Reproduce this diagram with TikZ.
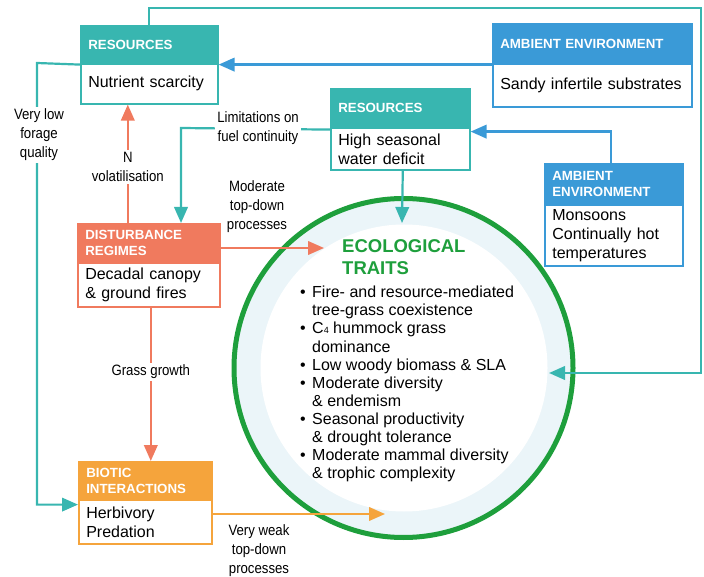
\documentclass[tikz,border=0pt]{standalone}
\usepackage{fontspec}
\setmainfont{Liberation Sans}
\newfontfamily\condfont[FakeStretch=0.88]{Liberation Sans}
\usetikzlibrary{arrows.meta}

\definecolor{cteal}{RGB}{56,182,176}
\definecolor{cblue}{RGB}{58,154,215}
\definecolor{csalmon}{RGB}{240,122,94}
\definecolor{corange}{RGB}{245,164,60}
\definecolor{cgreen}{RGB}{30,159,60}
\definecolor{cband}{RGB}{235,245,249}

\newcommand{\bxhdfont}{\fontsize{13.3}{16}\selectfont\bfseries}
\newcommand{\bxbdfont}{\fontsize{16}{19}\selectfont}
\newcommand{\lblfont}{\condfont\fontsize{15}{19}\selectfont}
\newcommand{\bulpt}{\makebox[12pt][l]{•}}
\newcommand{\contpt}{\hspace*{12pt}}

\tikzset{
  boxhead/.style={fill=#1, draw=#1, line width=1.6pt, text=white, font=\bxhdfont,
    align=left, inner xsep=7.5pt, inner ysep=0pt, anchor=north west},
  boxbody/.style={fill=white, draw=#1, line width=1.6pt, text=black, font=\bxbdfont,
    align=left, inner xsep=7.5pt, inner ysep=0pt, anchor=north west},
  conn/.style={draw=#1, line width=2.2pt, -{Triangle[length=16pt,width=13.5pt]}},
  lbl/.style={fill=white, font=\lblfont, align=center, inner sep=2pt, text=black},
  lblfree/.style={font=\lblfont, align=center, inner sep=1pt, text=black},
}

\begin{document}
\begin{tikzpicture}[x=1pt, y=-1pt]
\useasboundingbox (0,0) rectangle (704,577);

% central ring of ecological traits
\node[circle, minimum size=339pt, inner sep=0pt, fill=cband, draw=cgreen, line width=5pt] (eco) at (403.5,368) {};
\node[circle, minimum size=287pt, inner sep=0pt, fill=white] (ecoin) at (404,368) {};

\node[anchor=north west, inner sep=0pt, text=cgreen, font=\fontsize{18.5}{22}\selectfont\bfseries, align=left]
  (ecotitle) at (342,239) {ECOLOGICAL\\TRAITS};

\node[anchor=north west, inner sep=0pt, font=\fontsize{16}{18.1}\selectfont, align=left] (ecolist) at (300,286) {%
\bulpt Fire- and resource-mediated\\
\contpt tree-grass coexistence\\
\bulpt C{\fontsize{9}{9}\selectfont 4} hummock grass\\
\contpt dominance\\
\bulpt Low woody biomass \& SLA\\
\bulpt Moderate diversity\\
\contpt \& endemism\\
\bulpt Seasonal productivity\\
\contpt \& drought tolerance\\
\bulpt Moderate mammal diversity\\
\contpt \& trophic complexity};

% boxes
\node[boxhead=cteal, text width=122pt, minimum height=38pt] (r1h) at (80,25) {RESOURCES};
\node[boxbody=cteal, text width=122pt, minimum height=40pt] (r1b) at (80,63) {Nutrient scarcity};

\node[boxhead=cblue, text width=184pt, minimum height=40pt] (a1h) at (492,23) {AMBIENT ENVIRONMENT};
\node[boxbody=cblue, text width=184pt, minimum height=43pt] (a1b) at (492,63) {Sandy infertile substrates};

\node[boxhead=cteal, text width=124pt, minimum height=39pt] (r2h) at (330,88) {RESOURCES};
\node[boxbody=cteal, text width=124pt, minimum height=42pt] (r2b) at (330,127) {High seasonal\\water deficit};

\node[boxhead=cblue, text width=123pt, minimum height=41pt] (a2h) at (544,163) {AMBIENT\\ENVIRONMENT};
\node[boxbody=cblue, text width=123pt, minimum height=61pt] (a2b) at (544,204) {Monsoons\\Continually hot\\temperatures};

\node[boxhead=csalmon, text width=127pt, minimum height=39pt] (dh) at (77,223) {DISTURBANCE\\REGIMES};
\node[boxbody=csalmon, text width=127pt, minimum height=44pt] (db) at (77,262) {Decadal canopy\\\& ground fires};

\node[boxhead=corange, text width=118pt, minimum height=38pt] (bh) at (78,461) {BIOTIC\\INTERACTIONS};
\node[boxbody=corange, text width=118pt, minimum height=44pt] (bb) at (78,499) {Herbivory\\Predation};

% connector end points
\coordinate (loopTR) at (701,8);
\coordinate (loopBR) at (701,373);
\coordinate (tipRight) at (549,373);
\coordinate (tipTop) at (402,223);
\coordinate (tipMod) at (324,248);
\coordinate (tipWeak) at (385,514);
\coordinate (fuelTurn) at (181,128);
\coordinate (forageTop) at (37,63);

% connectors
\draw[conn=cteal] (r1h.north) |- (loopTR) -- (loopBR) -- (tipRight);
\draw[conn=cblue] (a1h.south west) -- (r1h.south east);
\draw[conn=cblue] ([xshift=-3pt]a2h.north) |- ([yshift=-3pt]r2h.south east);
\draw[conn=cteal] ([xshift=2.5pt]r2b.south) -- (tipTop);
\draw[conn=csalmon] ([xshift=-21pt]dh.north) -- ([xshift=-21pt]dh.north |- r1b.south)
  node[lbl, midway, yshift=-3pt] (lblN) {N\\volatilisation};
\draw[conn=cteal] ([yshift=-1pt]r2h.south west) -- (fuelTurn) -- (fuelTurn |- dh.north);
\node[lbl] (lblFuel) at (258,128) {Limitations on\\fuel continuity};
\draw[conn=csalmon] (dh.east |- tipMod) -- (tipMod);
\node[lblfree] (lblMod) at (257,207) {Moderate\\top-down\\processes};
\draw[conn=csalmon] ([xshift=2pt]db.south) -- ([xshift=2pt]db.south |- bh.north)
  node[lbl, pos=0.42] (lblGrass) {Grass growth};
\draw[conn=cteal] (r1h.south west) -- (forageTop) |- ([yshift=-4pt]bh.south west);
\node[lbl] (lblForage) at (39,135) {Very low\\forage\\quality};
\draw[conn=corange] (bb.east |- tipWeak) -- (tipWeak);
\node[lblfree] (lblWeak) at (259,551) {Very weak\\top-down\\processes};

\end{tikzpicture}
\end{document}
